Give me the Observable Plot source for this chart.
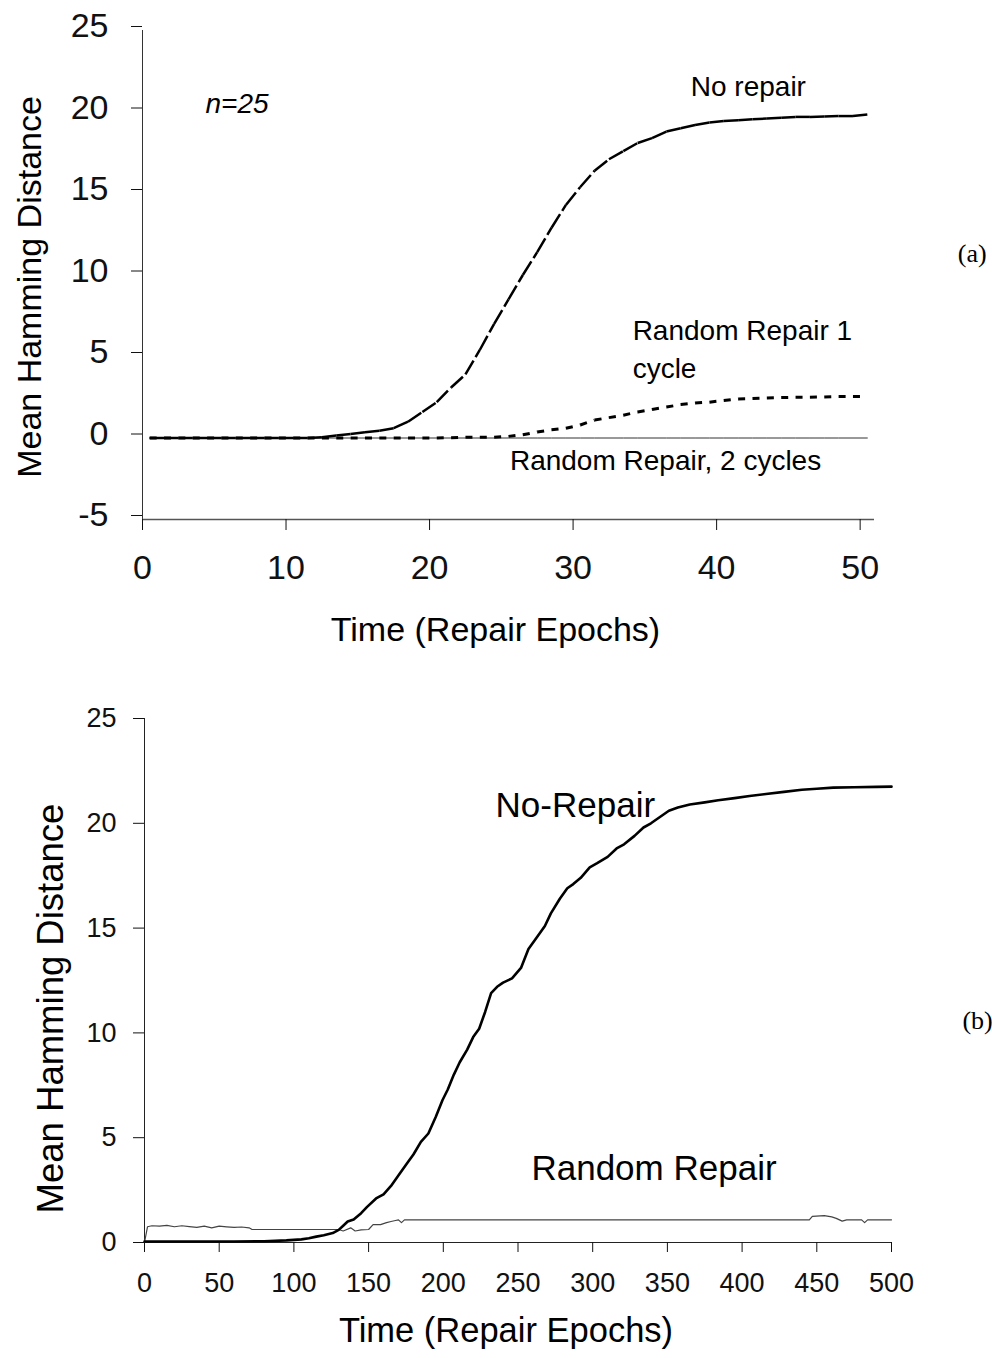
<!DOCTYPE html>
<html>
<head>
<meta charset="utf-8">
<script src="https://cdn.jsdelivr.net/npm/d3@7"></script>
<script src="https://cdn.jsdelivr.net/npm/@observablehq/plot@0.6"></script>
<style>
  html, body { margin: 0; padding: 0; background: #fff; }
  #wrap { width: 992px; height: 1358px; overflow: hidden; }
  #wrap svg { display: block; overflow: visible; }
</style>
</head>
<body>
<div id="wrap"></div>
<script>
// ---------- Panel (a): 0–50 repair epochs ----------
const epochsA = [0,1,2,3,4,5,6,7,8,9,10,11,12,13,14,15,16,17,18,19,20,21,22,23,24,25,26,27,28,29,30,31,32,33,34,35,36,37,38,39,40,41,42,43,44,45,46,47,48,49,50];
const noRepairA = [0,0,0,0,0,0,0,0,0,0,0,0,0.05,0.15,0.25,0.35,0.45,0.6,1.0,1.6,2.2,3.1,3.9,5.4,7.0,8.5,10.0,11.4,12.9,14.3,15.4,16.4,17.1,17.6,18.1,18.4,18.8,19.0,19.2,19.35,19.45,19.5,19.55,19.6,19.65,19.7,19.7,19.72,19.75,19.75,19.85];
const randomRepair1A = [0,0,0,0,0,0,0,0,0,0,0,0,0,0,0,0,0,0,0,0,0,0.02,0.05,0.05,0.05,0.1,0.2,0.37,0.5,0.6,0.8,1.1,1.25,1.4,1.6,1.75,1.9,2.05,2.15,2.2,2.3,2.4,2.42,2.45,2.48,2.5,2.5,2.52,2.55,2.55,2.55];
const randomRepair2A = [0,0,0,0,0,0,0,0,0,0,0,0,0,0,0,0,0,0,0,0,0,0,0,0,0,0,0,0,0,0,0,0,0,0,0,0,0,0,0,0,0,0,0,0,0,0,0,0,0,0,0];
const xTicksA = [0,10,20,30,40,50];
const yTicksA = [-5,0,5,10,15,20,25];
const labelsA = [
  {text: "No repair", x: 38.2, y: 21.75},
  {text: "Random Repair 1\ncycle", x: 34.15, y: 5.58},
  {text: "Random Repair, 2 cycles", x: 25.6, y: -1.23}
];
const noteA = [{text: "n=25", x: 4.39, y: 20.5}];
const tagA = [{text: "(a)", x: 56.8, y: 11.3}];

// ---------- Panel (b): 0–500 repair epochs ----------
const timeNoRepairB = [0,20,40,60,80,95,105,110,115,120,126,130,133,136,140,145,149,155,160,165,171,176,180,185,190,195,199.5,203,207,211,216,220,224,228,232,236,240,246,252,257,263,268,272,278,283,287,292,298,303,310,316,321,328,334,339,345,351,357,365,375,384,395,405,416,428,440,450,461,475,490,500];
const noRepairB = [0.05,0.05,0.05,0.05,0.06,0.1,0.15,0.2,0.28,0.35,0.45,0.6,0.8,1.0,1.1,1.4,1.7,2.1,2.3,2.7,3.3,3.8,4.2,4.8,5.2,6.0,6.8,7.3,8.0,8.6,9.2,9.8,10.2,11.0,11.9,12.2,12.4,12.6,13.1,14.0,14.6,15.1,15.7,16.4,16.9,17.1,17.4,17.9,18.1,18.4,18.8,19.0,19.4,19.8,20.0,20.3,20.6,20.75,20.9,21.0,21.1,21.2,21.3,21.4,21.5,21.6,21.65,21.7,21.72,21.74,21.75];
const timeRandomB = [0,2,5,10,15,20,25,30,35,40,45,50,55,60,65,70,72,130,133,138,141,145,150,153,158,162,165,168,170,172,174,445,447,455,460,463,467,470,480,482,484,500];
const randomRepairB = [0,0.75,0.8,0.78,0.82,0.75,0.8,0.76,0.72,0.78,0.7,0.78,0.75,0.72,0.74,0.7,0.62,0.62,0.55,0.7,0.55,0.6,0.62,0.85,0.85,0.95,1.0,1.05,1.08,0.95,1.08,1.08,1.25,1.28,1.22,1.15,1.02,1.08,1.08,0.95,1.08,1.08];
const xTicksB = [0,50,100,150,200,250,300,350,400,450,500];
const yTicksB = [0,5,10,15,20,25];
const labelsB = [
  {text: "No-Repair", x: 235, y: 20.85},
  {text: "Random Repair", x: 259, y: 3.53}
];
const tagB = [{text: "(b)", x: 547.5, y: 10.6}];

const xTitle = "Time (Repair Epochs)";
const yTitle = "Mean Hamming Distance";
const sans = "'Liberation Sans', Arial, Helvetica, sans-serif";
const serif = "'Liberation Serif', 'Times New Roman', serif";

// Excel category axis: each epoch sits at the centre of its bin
const pos = t => t + 0.5;
function segments(ts, vs) {
  return ts.slice(1).map((t, i) => ({x1: pos(ts[i]), y1: vs[i], x2: pos(t), y2: vs[i + 1]}));
}
const rowsA = epochsA.map((t, i) => ({x: pos(t), v: randomRepair2A[i]}));

const plotA = Plot.plot({
  width: 992,
  height: 680,
  marginLeft: 142,
  marginRight: 118,
  marginTop: 30,
  marginBottom: 161,
  style: {fontFamily: sans, fontSize: "34px", color: "#111", background: "#fff", overflow: "visible"},
  x: {domain: [0, 51]},
  y: {domain: [-5, 25]},
  marks: [
    Plot.ruleX([0], {stroke: "#333", strokeWidth: 1}),
    Plot.ruleY([-5], {stroke: "#555", strokeWidth: 1.5}),
    Plot.axisX({ticks: xTicksA, tickSize: 11, tickPadding: 24, label: null, tickFormat: d => String(d)}),
    Plot.axisY({ticks: yTicksA, tickSize: 11, tickPadding: 23, label: null, tickFormat: d => String(d), dy: -4}),
    Plot.line(rowsA, {x: "x", y: "v", stroke: "#333", strokeWidth: 1}),
    Plot.link(segments(epochsA, randomRepair1A), {x1: "x1", y1: "y1", x2: "x2", y2: "y2", stroke: "#000", strokeWidth: 3, strokeDasharray: "7,7.35"}),
    Plot.link(segments(epochsA, noRepairA), {x1: "x1", y1: "y1", x2: "x2", y2: "y2", stroke: "#000", strokeWidth: 2.5, strokeDasharray: "16,4"}),
    Plot.text(labelsA, {x: "x", y: "y", text: "text", textAnchor: "start", lineAnchor: "middle", fontSize: 28, lineHeight: 1.36, fill: "#000"}),
    Plot.text(noteA, {x: "x", y: "y", text: "text", textAnchor: "start", lineAnchor: "middle", fontSize: 28, fontStyle: "italic", fill: "#000"}),
    Plot.text(tagA, {x: "x", y: "y", text: "text", textAnchor: "start", lineAnchor: "middle", fontSize: 26, fontFamily: serif, fill: "#000"}),
    Plot.text([xTitle], {frameAnchor: "bottom", textAnchor: "middle", lineAnchor: "middle", dx: -13, dy: 111, fontSize: 34, fill: "#000"}),
    Plot.text([yTitle], {frameAnchor: "left", textAnchor: "middle", lineAnchor: "middle", rotate: -90, dx: -112, dy: 12, fontSize: 34, fill: "#000"})
  ]
});

const plotB = Plot.plot({
  width: 992,
  height: 678,
  marginLeft: 144,
  marginRight: 101,
  marginTop: 38,
  marginBottom: 116,
  style: {fontFamily: sans, fontSize: "27px", color: "#111", background: "#fff", overflow: "visible"},
  x: {domain: [0, 500]},
  y: {domain: [0, 25]},
  marks: [
    Plot.ruleX([0], {stroke: "#222", strokeWidth: 1}),
    Plot.ruleY([0], {stroke: "#222", strokeWidth: 1.2}),
    Plot.axisX({ticks: xTicksB, tickSize: 10, tickPadding: 20, label: null, tickFormat: d => String(d)}),
    Plot.axisY({ticks: yTicksB, tickSize: 11, tickPadding: 17, label: null, tickFormat: d => String(d)}),
    Plot.line(timeRandomB.map((t, i) => ({t, v: randomRepairB[i]})), {x: "t", y: "v", stroke: "#444", strokeWidth: 1.2}),
    Plot.line(timeNoRepairB.map((t, i) => ({t, v: noRepairB[i]})), {x: "t", y: "v", stroke: "#000", strokeWidth: 2.6}),
    Plot.text(labelsB, {x: "x", y: "y", text: "text", textAnchor: "start", lineAnchor: "middle", fontSize: 35, fill: "#000"}),
    Plot.text(tagB, {x: "x", y: "y", text: "text", textAnchor: "start", lineAnchor: "middle", fontSize: 26, fontFamily: serif, fill: "#000"}),
    Plot.text([xTitle], {frameAnchor: "bottom", textAnchor: "middle", lineAnchor: "middle", dx: -12, dy: 88, fontSize: 34.5, fill: "#000"}),
    Plot.text([yTitle], {frameAnchor: "left", textAnchor: "middle", lineAnchor: "middle", rotate: -90, dx: -93, dy: 28, fontSize: 36.5, fill: "#000"})
  ]
});

const wrap = document.getElementById("wrap");
wrap.appendChild(plotA);
wrap.appendChild(plotB);
</script>
</body>
</html>
